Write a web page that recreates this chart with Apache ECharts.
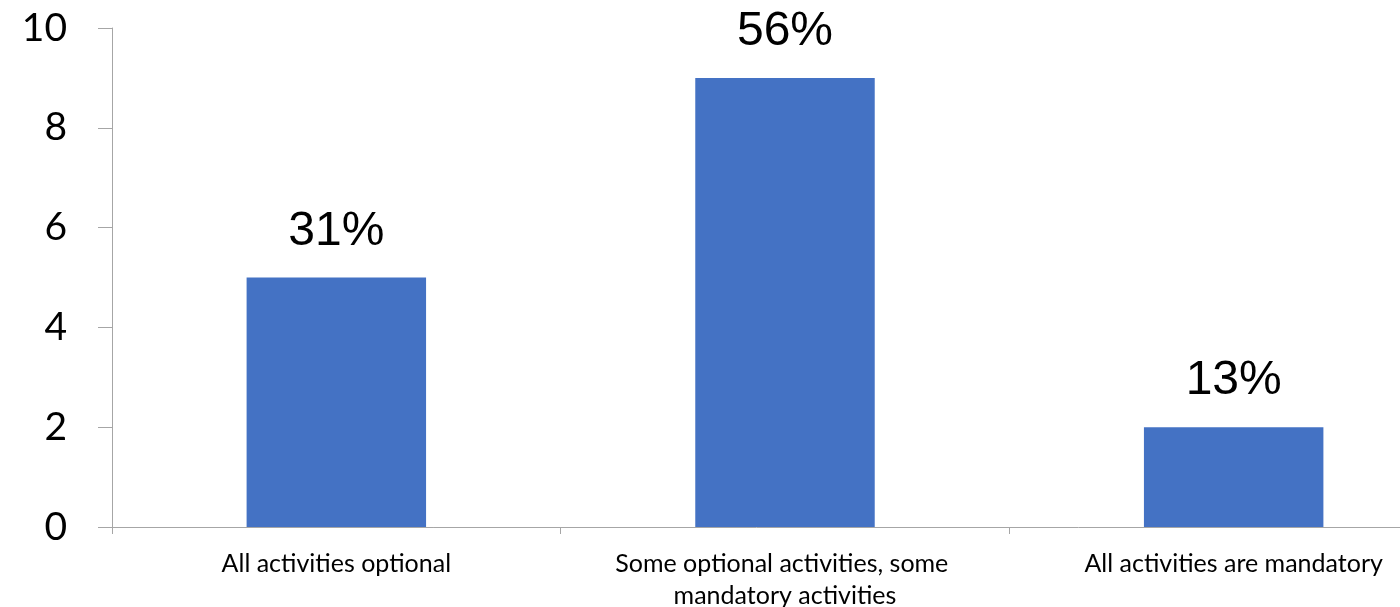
<!DOCTYPE html>
<html>
<head>
<meta charset="utf-8">
<script src="https://cdn.jsdelivr.net/npm/echarts@6/dist/echarts.min.js"></script>
<style>
html,body{margin:0;padding:0;background:#fff;}
#chart{width:1400px;height:607px;}
</style>
</head>
<body>
<div id="chart"></div>
<script>
const categories = ['All activities optional', 'Some optional activities, some mandatory activities', 'All activities are mandatory'];
const counts = [5, 9, 2];
const percentLabels = ['31%', '56%', '13%'];
const yTicks = [0, 2, 4, 6, 8, 10];

const chart = echarts.init(document.getElementById('chart'), null, {renderer: 'canvas'});
chart.setOption({
  animation: false,
  grid: {left: 112, right: -58, top: 28, bottom: 80, containLabel: false, outerBoundsMode: 'none'},
  xAxis: {
    type: 'category',
    data: categories,
    axisLine: {show: true, lineStyle: {color: '#A6A6A6', width: 1}},
    axisTick: {show: true, length: 7, alignWithLabel: false, lineStyle: {color: '#A6A6A6'}},
    axisLabel: {
      color: '#000', fontFamily: 'Lato', fontSize: 25, margin: 21,
      lineHeight: 32, width: 420, overflow: 'break', interval: 0
    },
    splitLine: {show: false}
  },
  yAxis: {
    type: 'value',
    min: yTicks[0], max: yTicks[yTicks.length - 1], interval: 2,
    axisLine: {show: true, lineStyle: {color: '#A6A6A6', width: 1}},
    axisTick: {show: true, length: 14, lineStyle: {color: '#A6A6A6'}},
    axisLabel: {color: '#000', fontFamily: 'Lato', fontSize: 39, margin: 45},
    splitLine: {show: false}
  },
  series: [{
    type: 'bar',
    data: counts,
    barWidth: '40%',
    itemStyle: {color: '#4472C4'},
    label: {
      show: true, position: 'top', distance: 22,
      fontFamily: 'Liberation Sans, Arial', fontSize: 48, color: '#000',
      formatter: p => percentLabels[p.dataIndex]
    }
  }]
});
</script>
</body>
</html>
